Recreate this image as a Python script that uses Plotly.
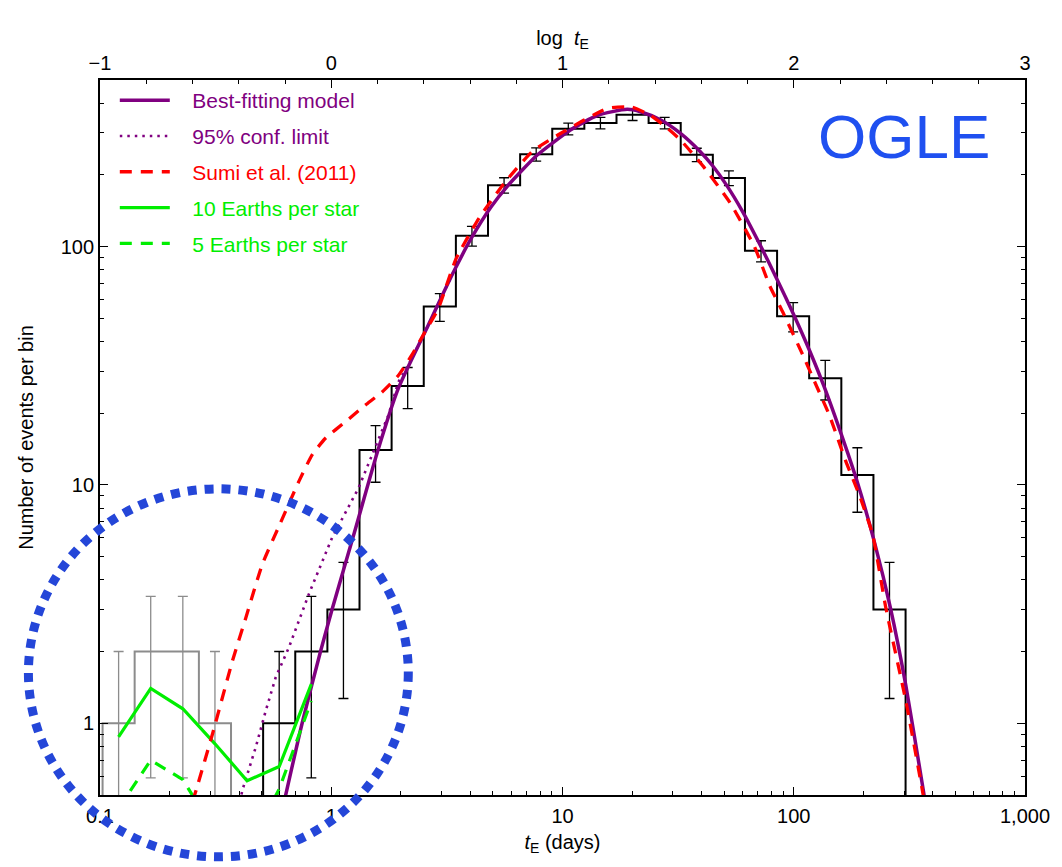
import numpy as np
import plotly.graph_objects as go

# ---------------- data ----------------
# histogram bin edges in days (log-spaced bins)
grey_edges = [0.1026, 0.1412, 0.1944, 0.2677, 0.3686]
grey_counts = [1, 2, 2, 1]
grey_err = [1.0, 1.41, 1.41, 1.0]

black_edges = [0.5075, 0.6988, 0.9623, 1.325, 1.824, 2.512, 3.459, 4.763, 6.558,
               9.030, 12.43, 17.12, 23.57, 32.45, 44.68, 61.52, 84.71, 116.6,
               160.6, 221.1, 304.5]
black_counts = [1, 2, 3, 14, 26, 56, 111, 181, 244, 312, 330, 357, 330, 243,
                194, 96, 51, 28, 11, 3]
black_err = [1.0, 1.41, 1.73, 3.74, 5.10, 7.48, 10.5, 13.5, 15.6, 17.7, 18.2,
             18.9, 18.2, 15.6, 13.9, 9.80, 7.14, 5.29, 3.32, 1.73]

# best-fitting model
model_t = [0.6026, 0.7482, 0.8985, 1.008, 1.259, 1.574, 1.950, 2.624, 3.365,
           4.034, 4.898, 5.794, 7.798, 10.86, 14.13, 19.05, 21.73, 26.49, 32.28,
           39.26, 44.67, 51.29, 60.26, 71.29, 85.11, 100.0, 117.5, 135.2, 158.5,
           188.8, 223.9, 262.4, 304.8, 359.7, 380.2]
model_n = [0.398, 1.0, 2.0, 3.0, 6.31, 13.49, 25.4, 46.7, 77.6,
           108.4, 146.2, 179.9, 242.7, 309.0, 354.8, 376.7, 368.1, 340.4, 299.2,
           251.2, 217.8, 180.7, 139.6, 102.3, 72.1, 51.8, 36.3, 25.9, 16.9,
           10.19, 5.70, 3.02, 1.452, 0.555, 0.398]

# 95% confidence limit
conf_t = [0.4027, 0.4130, 0.4721, 0.5212, 0.5754, 0.6561, 0.7998, 0.9131, 1.008,
          1.312, 1.549, 1.766, 1.950, 2.153, 2.500, 3.365]
conf_n = [0.468, 0.525, 0.796, 1.13, 1.56, 2.08, 3.48, 4.80, 6.00,
          9.70, 14.3, 19.6, 27.0, 31.8, 42.3, 77.6]

# Sumi et al. (2011)
sumi_t = [0.251, 0.2606, 0.3069, 0.3741, 0.4276, 0.5035, 0.6026, 0.7244, 0.8279,
          0.9441, 1.151, 1.403, 1.656, 1.950, 2.228, 2.541, 2.897, 3.467, 4.365,
          5.610, 7.413, 9.840, 15.63, 19.95, 23.99, 28.18, 32.28, 40.64, 52.97,
          67.61, 78.70, 89.74, 109.6, 125.0, 142.6, 168.3, 191.9, 219.3, 250.0,
          304.8, 359.7, 371.5]
sumi_n = [0.468, 0.525, 0.906, 1.83, 2.78, 4.65, 6.92, 10.35, 13.4,
          15.7, 18.4, 21.6, 24.5, 28.8, 35.0, 43.8, 54.7, 89.0, 132,
          185, 251, 299, 380, 385, 355, 316, 281, 217, 153,
          100, 68.5, 53.0, 35.0, 26.2, 19.6, 12.5, 9.10, 6.19, 3.06,
          1.25, 0.525, 0.436]

# Earth-mass planet populations (evaluated at the short-timescale bin centres)
earth_t = [0.1203, 0.1657, 0.2282, 0.3142, 0.4325, 0.5956, 0.8200]
earth10_n = [0.877, 1.40, 1.15, 0.82, 0.574, 0.658, 1.46]
earth5_n = [0.44, 0.70, 0.58, 0.35, 0.29, 0.53, 1.24]

# axis tick values
top_ticks = [-1, 0, 1, 2, 3]

# ---------------- figure ----------------
FLOOR = 0.01
PURPLE = '#800080'
RED = '#ff0000'
GREEN = '#00ee00'
GREY = '#8c8c8c'


def step_xy(edges, counts):
    xs = [edges[0]] + list(edges[:-1]) + [edges[-1], edges[-1]]
    ys = [FLOOR] + list(counts) + [counts[-1], FLOOR]
    return xs, ys


def centres(edges):
    e = np.array(edges)
    return np.sqrt(e[:-1] * e[1:])


fig = go.Figure()

for edges, counts, errs, col in [(grey_edges, grey_counts, grey_err, GREY),
                                 (black_edges, black_counts, black_err, 'black')]:
    xs, ys = step_xy(edges, counts)
    fig.add_trace(go.Scatter(x=xs, y=ys, mode='lines',
                             line=dict(color=col, width=2, shape='hv'),
                             showlegend=False, hoverinfo='skip'))
    minus = [min(e, c - FLOOR) for e, c in zip(errs, counts)]
    fig.add_trace(go.Scatter(x=centres(edges), y=counts, mode='markers',
                             marker=dict(size=2, opacity=0),
                             error_y=dict(type='data', array=errs, arrayminus=minus,
                                          color=col, thickness=1.3, width=5),
                             showlegend=False, hoverinfo='skip'))

PAD = '\u00a0\u00a0\u00a0'


def lbl(text, col):
    return f"<span style='color:{col}'>{PAD}{text}</span>"


fig.add_trace(go.Scatter(x=conf_t, y=conf_n, mode='lines',
                         line=dict(color=PURPLE, width=2.6, dash='2.5px,5px'),
                         name=lbl('95% conf. limit', PURPLE), legendrank=2,
                         legendgroup='g2'))
fig.add_trace(go.Scatter(x=model_t, y=model_n, mode='lines',
                         line=dict(color=PURPLE, width=3.5, shape='spline', smoothing=0.6),
                         name=lbl('Best-fitting model', PURPLE), legendrank=1,
                         legendgroup='g1'))
fig.add_trace(go.Scatter(x=earth_t, y=earth10_n, mode='lines',
                         line=dict(color=GREEN, width=3.2),
                         name=lbl('10 Earths per star', GREEN), legendrank=4,
                         legendgroup='g4'))
fig.add_trace(go.Scatter(x=earth_t, y=earth5_n, mode='lines',
                         line=dict(color=GREEN, width=3.2, dash='12px,9px'),
                         name=lbl('5 Earths per star', GREEN), legendrank=5,
                         legendgroup='g5'))
fig.add_trace(go.Scatter(x=sumi_t, y=sumi_n, mode='lines',
                         line=dict(color=RED, width=3.3, dash='12px,9px',
                                   shape='spline', smoothing=0.5),
                         name=lbl('Sumi et al. (2011)', RED), legendrank=3,
                         legendgroup='g3'))

# dummy trace for top axis
fig.add_trace(go.Scatter(x=[top_ticks[0], top_ticks[-1]], y=[1, 1], xaxis='x2',
                         mode='none', showlegend=False, hoverinfo='skip'))

# OGLE label and highlighting circle
fig.add_annotation(text='OGLE', xref='paper', yref='paper', x=0.869, y=0.921,
                   showarrow=False, font=dict(size=62, color='#1f50f0'),
                   xanchor='center', yanchor='middle')
fig.add_shape(type='circle', xref='paper', yref='paper',
              x0=-0.0774, x1=0.3333, y0=-0.0865, y1=0.4282,
              line=dict(color='#2446d8', width=9, dash='9px,8px'), layer='above')

FONT = 'Liberation Sans, Arial, Helvetica, sans-serif'
axis_common = dict(showgrid=False, zeroline=False, showline=True, linecolor='black',
                   linewidth=1.8, ticks='inside', ticklen=8, tickwidth=1.3,
                   tickcolor='black', tickfont=dict(size=20, color='black'))

fig.update_layout(
    width=1062, height=867,
    margin=dict(l=100, r=32, t=80, b=72),
    paper_bgcolor='white', plot_bgcolor='white',
    font=dict(family=FONT, size=20, color='black'),
    xaxis=dict(type='log', range=[-1, 3], dtick=1, tick0=0, tickformat=',',
               mirror=False, ticklabelstandoff=2,
               minor=dict(dtick='D1', ticks='inside', ticklen=4, tickcolor='black',
                          tickwidth=1, showgrid=False),
               title=dict(text='<i>t</i><sub>E</sub> (days)', standoff=9,
                          font=dict(size=20)),
               **axis_common),
    xaxis2=dict(overlaying='x', side='top', anchor='y', range=[top_ticks[0], top_ticks[-1]],
                tickvals=top_ticks, ticktext=['\u22121', '0', '1', '2', '3'],
                minor=dict(dtick=0.2, ticks='inside', ticklen=4, tickcolor='black',
                           tickwidth=1, showgrid=False),
                title=dict(text='log  <i>t</i><sub>E</sub>', standoff=0,
                           font=dict(size=20)),
                **axis_common),
    yaxis=dict(type='log', range=[np.log10(0.5), np.log10(500)], dtick=1, tick0=0,
               tickformat=',', mirror='ticks',
               minor=dict(dtick='D1', ticks='inside', ticklen=4, tickcolor='black',
                          tickwidth=1, showgrid=False),
               title=dict(text='Number of events per bin', standoff=22,
                          font=dict(size=20)),
               **axis_common),
    legend=dict(x=0.016, y=1.0, xanchor='left', yanchor='top',
                bgcolor='rgba(0,0,0,0)', font=dict(size=21),
                itemwidth=50, tracegroupgap=5.5, traceorder='grouped'),
    showlegend=True,
)

fig.write_html('out.html')
